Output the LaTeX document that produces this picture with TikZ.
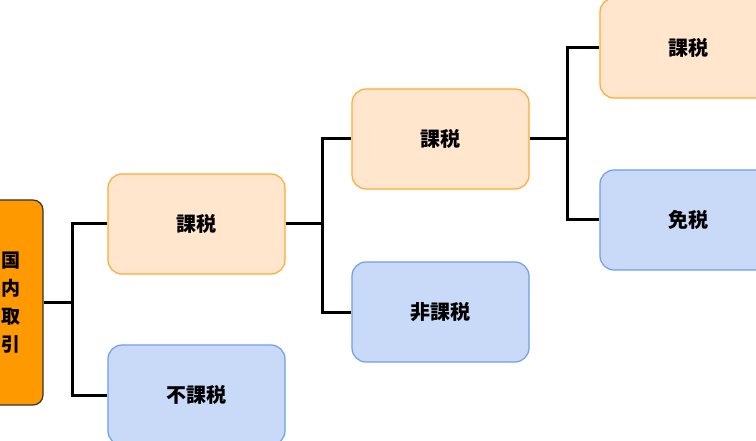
\documentclass[tikz,border=0pt]{standalone}
\usepackage{fontspec}
\newfontfamily\jp{Noto Sans CJK JP}
\usetikzlibrary{calc}
\usetikzlibrary{positioning}
\definecolor{rootfill}{HTML}{FF9900}
\definecolor{taxfill}{HTML}{FFE6CC}
\definecolor{taxline}{HTML}{FFAA33}
\definecolor{freefill}{HTML}{C9DAF8}
\definecolor{freeline}{HTML}{6D9EEB}

\begin{document}
\begin{tikzpicture}[x=1pt, y=-1pt,
  box/.style={rounded corners=14pt, minimum width=177pt, minimum height=100pt,
    inner sep=0, font=\jp\bfseries\fontsize{20}{22}\selectfont, line width=1.2pt},
  taxbox/.style={box, draw=taxline, fill=taxfill},
  freebox/.style={box, draw=freeline, fill=freefill},
  branch/.style={black, line width=3pt}]
\clip (0,0) rectangle (756,441);
\fill[white] (0,0) rectangle (756,441);
% root
\node[draw=black!80, fill=rootfill, rounded corners=10pt, line width=1.2pt,
  minimum width=64pt, minimum height=205pt, inner sep=0, align=center,
  font=\jp\bfseries\fontsize{19}{28}\selectfont] (root) at (11,302.5) {国\\内\\取\\引};
% first level
\node[taxbox]  (tax1)  at (196.5,224) {課税};
\node[freebox] (nontax) at (196.5,395) {不課税};
% second level
\node[taxbox]  (tax2)  at (440.5,139) {課税};
\node[freebox] (exclude) at (440.5,312) {非課税};
% third level
\node[taxbox]  (tax3)  at (688.5,48) {課税};
\node[freebox] (exempt) at (688.5,220) {免税};
% branches
\coordinate (j1) at ($(root.east)+(29,0)$);
\coordinate (j2) at ($(tax1.east)+(37,0)$);
\coordinate (j3) at ($(tax2.east)+(38,0)$);
\draw[branch] (root.east) -- (j1) |- (tax1.west);
\draw[branch] (j1) |- (nontax.west);
\draw[branch] (tax1.east) -- (j2) |- (tax2.west);
\draw[branch] (j2) |- (exclude.west);
\draw[branch] (tax2.east) -- (j3) |- (tax3.west);
\draw[branch] (j3) |- (exempt.west);
\end{tikzpicture}
\end{document}
